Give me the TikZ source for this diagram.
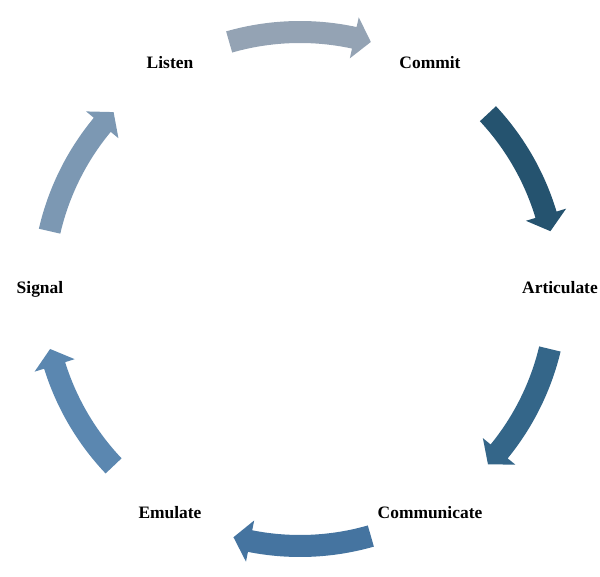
\documentclass[tikz,border=0pt]{standalone}
\usepackage{fontspec}
\setmainfont{Liberation Serif}
\definecolor{listencol}{HTML}{94A3B4}
\definecolor{commitcol}{HTML}{25536F}
\definecolor{articol}{HTML}{346689}
\definecolor{commucol}{HTML}{4574A0}
\definecolor{emulcol}{HTML}{5B87B0}
\definecolor{signalcol}{HTML}{7C98B3}

\begin{document}
\begin{tikzpicture}[x=0.025cm,y=0.025cm]
	\useasboundingbox (-300,-288) rectangle (300,289);
	\begin{scope}[every node/.style={font=\bfseries\fontsize{12.4}{14}\selectfont,text height=1.6ex,text depth=.3ex}]
	\node (listen) at (120:260) {Listen};
	\node (commit) at (60:260) {Commit};
	\node (artic) at (0:260) {Articulate};
	\node (commu) at (-60:260) {Communicate};
	\node (emul) at (-120:260) {Emulate};
	\node (signal) at (180:260) {Signal};
	\end{scope}
	% curved block arrows: tail angle / tip angle / colour
	\foreach \a/\b/\c in {106/74/listencol, 43/13/commitcol, -13.5/-43/articol, -74/-105/commucol, -136.5/-166.5/emulcol, 167/136.5/signalcol}
	{
		\pgfmathsetmacro\h{\b+3.8}
		\fill[\c] (\a:268) arc[start angle=\a, end angle=\h, radius=268] -- (\h:278) -- (\b:257) -- (\h:236) -- (\h:246) arc[start angle=\h, end angle=\a, radius=246] -- cycle;
	}
\end{tikzpicture}
\end{document}
